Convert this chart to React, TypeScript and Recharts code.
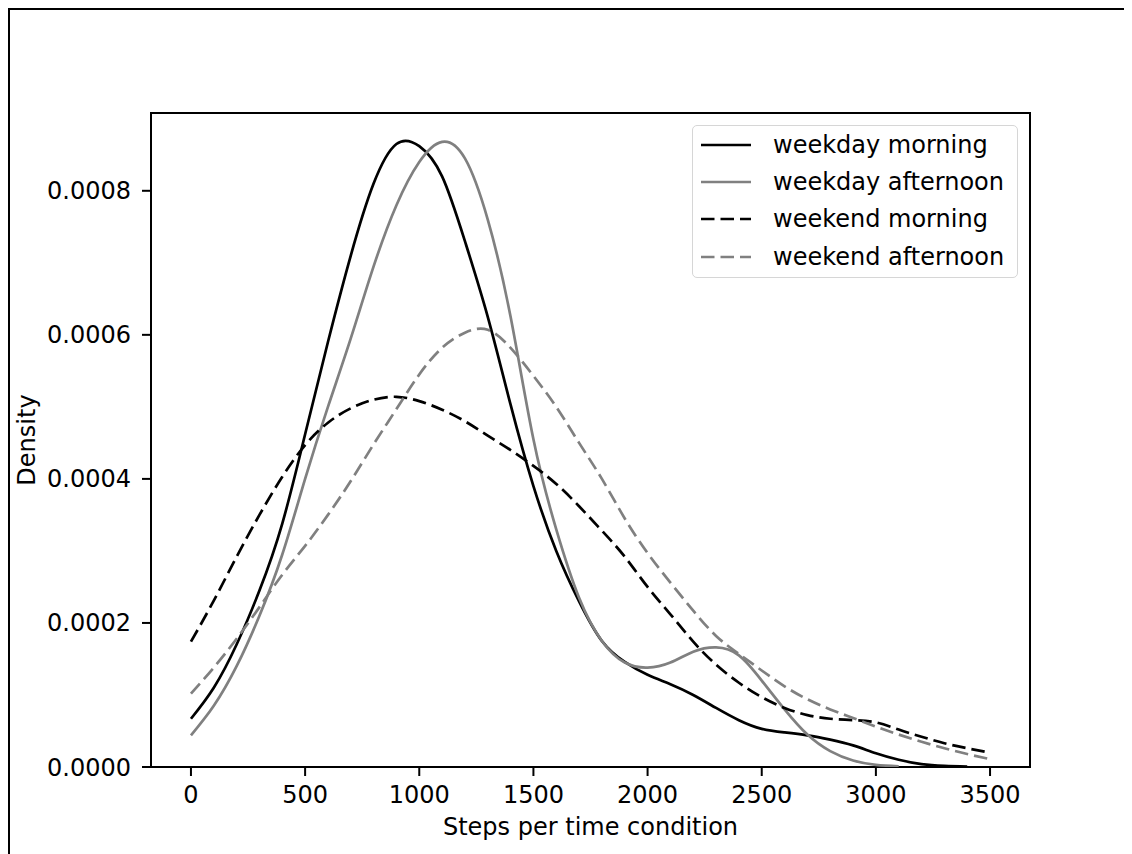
import { LineChart, Line, XAxis, YAxis, ReferenceArea, Legend } from "recharts"

// x grid (steps) and KDE densities, values in units of 1e-4
const steps = [
  0, 100, 200, 300, 400, 500, 600, 700, 800, 900, 1000, 1100, 1200, 1300, 1400, 1500, 1600, 1700,
  1800, 1900, 2000, 2100, 2200, 2300, 2400, 2500, 2600, 2700, 2800, 2900, 3000, 3100, 3200, 3300,
  3400, 3500,
]

const weekdayMorning = [
  0.67, 1.1, 1.7, 2.45, 3.38, 4.62, 5.9, 7.1, 8.1, 8.65, 8.62, 8.2, 7.3, 6.25, 5.03, 3.9, 3.0, 2.3,
  1.75, 1.46, 1.28, 1.15, 1.0, 0.82, 0.65, 0.53, 0.48, 0.44, 0.38, 0.3, 0.19, 0.1, 0.04, 0.015,
  0.004, null,
]

const weekdayAfternoon = [
  0.44, 0.85, 1.4, 2.1, 2.95, 4.0, 5.0, 5.95, 6.95, 7.8, 8.4, 8.68, 8.45, 7.6, 6.25, 4.55, 3.3, 2.35,
  1.75, 1.45, 1.38, 1.45, 1.6, 1.66, 1.55, 1.2, 0.8, 0.45, 0.22, 0.09, 0.03, 0.01, null, null, null,
  null,
]

const weekendMorning = [
  1.74, 2.31, 2.92, 3.5, 4.03, 4.47, 4.78, 4.98, 5.1, 5.14, 5.08, 4.96, 4.8, 4.6, 4.4, 4.18, 3.93,
  3.62, 3.28, 2.92, 2.5, 2.12, 1.74, 1.42, 1.17, 0.97, 0.82, 0.72, 0.67, 0.65, 0.62, 0.52, 0.42,
  0.33, 0.26, 0.2,
]

const weekendAfternoon = [
  1.02, 1.38, 1.78, 2.22, 2.67, 3.07, 3.5, 3.97, 4.48, 4.97, 5.45, 5.82, 6.03, 6.07, 5.82, 5.43, 5.0,
  4.5, 4.0, 3.45, 2.97, 2.56, 2.17, 1.82, 1.57, 1.34, 1.12, 0.94, 0.8, 0.68, 0.56, 0.45, 0.35, 0.26,
  0.18, 0.11,
]

const xTicks = [0, 500, 1000, 1500, 2000, 2500, 3000, 3500]
const yTicks = [0, 2, 4, 6, 8]

const series = [
  { key: "wdMorning", name: "weekday morning", color: "#000000", dash: undefined, values: weekdayMorning },
  { key: "wdAfternoon", name: "weekday afternoon", color: "#808080", dash: undefined, values: weekdayAfternoon },
  { key: "weMorning", name: "weekend morning", color: "#000000", dash: "13.5 6", values: weekendMorning },
  { key: "weAfternoon", name: "weekend afternoon", color: "#808080", dash: "13.5 6", values: weekendAfternoon },
]

const chartData = steps.map((x, i) => {
  const row: Record<string, number | null> = { x }
  series.forEach((s) => (row[s.key] = s.values[i]))
  return row
})

const font = "'DejaVu Sans', sans-serif"
const tickStyle = { fill: "#000", fontSize: 24, fontFamily: font }

const renderLegend = () => (
  <div
    style={{
      boxSizing: "border-box",
      width: 326,
      height: 153,
      border: "1px solid #d6d6d6",
      borderRadius: 5,
      background: "rgba(255,255,255,0.8)",
      fontFamily: font,
      fontSize: 24,
      color: "#000",
    }}
  >
    {series.map((s) => (
      <div key={s.key} style={{ display: "flex", alignItems: "center", height: 37.3 }}>
        <svg width={50} height={6} style={{ marginLeft: 8 }}>
          <line x1={0} y1={3} x2={50} y2={3} stroke={s.color} strokeWidth={2.7} strokeDasharray={s.dash} />
        </svg>
        <span style={{ marginLeft: 22, whiteSpace: "nowrap" }}>{s.name}</span>
      </div>
    ))}
  </div>
)

export default function App() {
  return (
    <div
      style={{
        width: 1124,
        height: 846,
        borderLeft: "2px solid #000",
        borderTop: "2px solid #000",
        boxSizing: "border-box",
        background: "#fff",
      }}
    >
      <style>{`body{overflow:hidden}`}</style>
      <LineChart width={1122} height={844} data={chartData} margin={{ top: 103, right: 102, left: 0, bottom: 0 }}>
        <XAxis
          dataKey="x"
          type="number"
          domain={[-175, 3675]}
          ticks={xTicks}
          interval={0}
          allowDataOverflow
          height={87}
          axisLine={false}
          tickSize={9}
          tickMargin={10}
          tickLine={{ stroke: "#000", strokeWidth: 2 }}
          tick={tickStyle}
          label={{
            content: (props: any) => {
              const vb = props.viewBox || { x: 141, width: 879 }
              return (
                <text x={vb.x + vb.width / 2} y={825} textAnchor="middle" fontSize={24} fontFamily={font} fill="#000">
                  Steps per time condition
                </text>
              )
            },
          }}
        />
        <YAxis
          type="number"
          domain={[0, 9.08]}
          ticks={yTicks}
          interval={0}
          allowDataOverflow
          width={141}
          axisLine={false}
          tickSize={9}
          tickMargin={11}
          tickLine={{ stroke: "#000", strokeWidth: 2 }}
          tick={tickStyle}
          tickFormatter={(v: number) => (v / 10000).toFixed(4)}
          label={{
            content: () => (
              <text
                x={25}
                y={430}
                transform="rotate(-90, 25, 430)"
                textAnchor="middle"
                fontSize={24}
                fontFamily={font}
                fill="#000"
              >
                Density
              </text>
            ),
          }}
        />
        {series.map((s) => (
          <Line
            key={s.key}
            dataKey={s.key}
            name={s.name}
            type="natural"
            stroke={s.color}
            strokeWidth={2.7}
            strokeDasharray={s.dash}
            dot={false}
            activeDot={false}
            isAnimationActive={false}
          />
        ))}
        <ReferenceArea x1={-175} x2={3675} y1={0} y2={9.08} fill="none" stroke="#000" strokeWidth={2} />
        <Legend
          layout="vertical"
          align="center"
          verticalAlign="middle"
          content={renderLegend}
          wrapperStyle={{ left: 682, top: 115, width: 326 }}
        />
      </LineChart>
    </div>
  )
}
